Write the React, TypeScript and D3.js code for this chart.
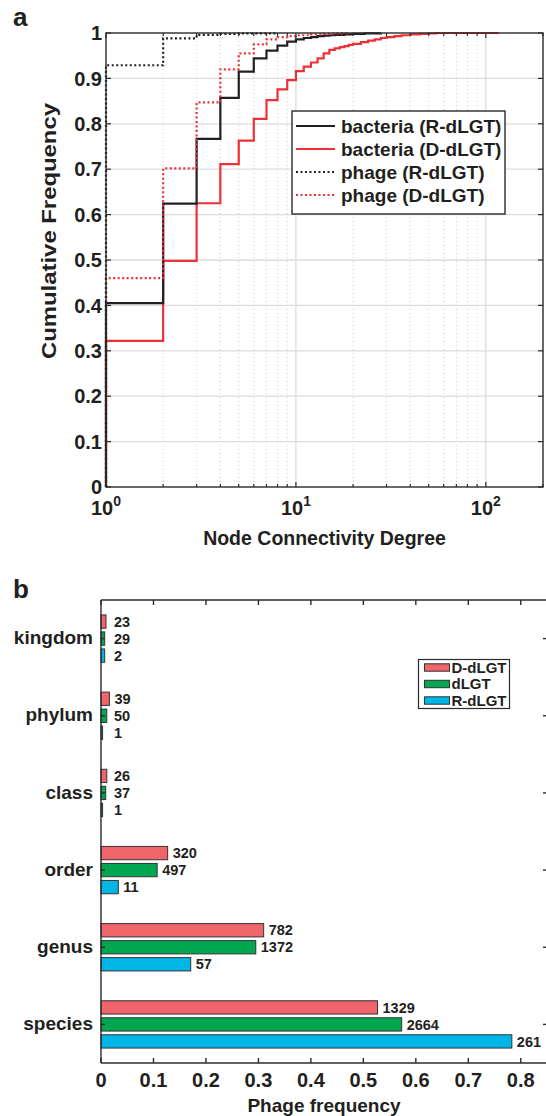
import React, { useEffect, useRef } from 'react';
import * as d3 from 'd3';

// panel a: cumulative frequency of node degree
const bacteriaRDeg = [1, 2, 3, 4, 5, 6, 7, 8, 9, 10, 11, 12, 13, 14, 15, 16, 18, 20, 23, 28];
const bacteriaRCdf = [0.405, 0.624, 0.767, 0.857, 0.915, 0.944, 0.961, 0.972, 0.981, 0.986, 0.989, 0.991, 0.993, 0.994, 0.995, 0.996, 0.997, 0.998, 0.999, 1.0];

const bacteriaDDeg = [1, 2, 3, 4, 5, 6, 7, 8, 9, 10, 11, 12, 13, 14, 15, 16, 17, 18, 19, 20, 22, 24, 26, 28, 30, 33, 36, 40, 45, 50, 55, 117];
const bacteriaDCdf = [0.322, 0.498, 0.625, 0.711, 0.763, 0.811, 0.852, 0.876, 0.896, 0.916, 0.926, 0.935, 0.944, 0.955, 0.963, 0.966, 0.969, 0.971, 0.974, 0.976, 0.98, 0.983, 0.986, 0.989, 0.991, 0.993, 0.995, 0.997, 0.998, 0.999, 1.0, 1.0];

const phageRDeg = [1, 2, 3, 4, 5, 8];
const phageRCdf = [0.929, 0.988, 0.996, 0.998, 0.999, 1.0];

const phageDDeg = [1, 2, 3, 4, 5, 6, 7, 8, 9, 10, 12, 14, 16, 19];
const phageDCdf = [0.46, 0.702, 0.847, 0.92, 0.955, 0.975, 0.986, 0.991, 0.993, 0.995, 0.997, 0.998, 0.999, 1.0];

const yTicksA = [0, 0.1, 0.2, 0.3, 0.4, 0.5, 0.6, 0.7, 0.8, 0.9, 1];
const xDecades = [1, 10, 100];

// panel b: phage frequency per taxonomic level
const levels = ['kingdom', 'phylum', 'class', 'order', 'genus', 'species'];
const freqD = [0.0095, 0.016, 0.011, 0.127, 0.31, 0.527];
const countD = [23, 39, 26, 320, 782, 1329];
const freqAll = [0.007, 0.011, 0.009, 0.107, 0.295, 0.573];
const countAll = [29, 50, 37, 497, 1372, 2664];
const freqR = [0.007, 0.003, 0.003, 0.033, 0.171, 0.783];
const countR = [2, 1, 1, 11, 57, 261];
const xTicksB = [0, 0.1, 0.2, 0.3, 0.4, 0.5, 0.6, 0.7, 0.8];

const FONT = "'Liberation Sans', Arial, Helvetica, sans-serif";
const INK = '#231f20';
const AXIS = '#2b2b2b';
const BLACK = '#231f20';
const RED = '#ee3036';

const App = () => {
    const svgRef = useRef(null);

    useEffect(() => {
        const width = 546;
        const height = 1116;
        const svg = d3.select(svgRef.current);
        svg.selectAll('*').remove();
        svg.attr('width', width).attr('height', height)
            .style('font-family', FONT).style('font-weight', 'bold');

        svg.append('rect').attr('width', width).attr('height', height).attr('fill', '#fff');

        // ---------------- panel a ----------------
        const a = { left: 106, right: 543, top: 33, bottom: 487 };
        const x = d3.scaleLog().domain([1, 200]).range([a.left, a.right]);
        const y = d3.scaleLinear().domain([0, 1]).range([a.bottom, a.top]);

        svg.append('text').attr('x', 13).attr('y', 26).attr('font-size', 26).attr('fill', INK).text('a');

        const minor = [];
        [1, 10, 100].forEach(dec => {
            for (let m = 2; m <= 9; m++) if (dec * m <= 200) minor.push(dec * m);
        });

        // minor grid (dotted)
        svg.append('g').selectAll('line').data(minor).enter().append('line')
            .attr('x1', d => x(d)).attr('x2', d => x(d))
            .attr('y1', a.top).attr('y2', a.bottom)
            .attr('stroke', '#bdbdbd').attr('stroke-width', 0.8).attr('stroke-dasharray', '1,3');
        // major grid
        svg.append('g').selectAll('line').data(yTicksA.slice(1, -1)).enter().append('line')
            .attr('x1', a.left).attr('x2', a.right)
            .attr('y1', d => y(d)).attr('y2', d => y(d))
            .attr('stroke', '#dcdcdc').attr('stroke-width', 1.3);
        svg.append('g').selectAll('line').data(xDecades.slice(1)).enter().append('line')
            .attr('x1', d => x(d)).attr('x2', d => x(d))
            .attr('y1', a.top).attr('y2', a.bottom)
            .attr('stroke', '#dcdcdc').attr('stroke-width', 1.3);

        const series = [
            { deg: bacteriaDDeg, cdf: bacteriaDCdf, color: RED, dash: null },
            { deg: bacteriaRDeg, cdf: bacteriaRCdf, color: BLACK, dash: null },
            { deg: phageDDeg, cdf: phageDCdf, color: RED, dash: '2,2.5' },
            { deg: phageRDeg, cdf: phageRCdf, color: BLACK, dash: '2,2.5' },
        ];
        const stair = d3.line().x(d => x(d[0])).y(d => y(d[1])).curve(d3.curveStepAfter);
        series.forEach(s => {
            const pts = [[1, 0]].concat(s.deg.map((d, i) => [d, s.cdf[i]]));
            svg.append('path').attr('d', stair(pts))
                .attr('fill', 'none').attr('stroke', s.color).attr('stroke-width', 2.2)
                .attr('stroke-dasharray', s.dash);
        });

        // frame + ticks
        svg.append('rect').attr('x', a.left).attr('y', a.top)
            .attr('width', a.right - a.left).attr('height', a.bottom - a.top)
            .attr('fill', 'none').attr('stroke', AXIS).attr('stroke-width', 1.4);
        const ticksA = svg.append('g').attr('stroke', AXIS).attr('stroke-width', 1.2);
        yTicksA.forEach(t => {
            ticksA.append('line').attr('x1', a.left).attr('x2', a.left + 5).attr('y1', y(t)).attr('y2', y(t));
            ticksA.append('line').attr('x1', a.right).attr('x2', a.right - 5).attr('y1', y(t)).attr('y2', y(t));
        });
        xDecades.forEach(t => {
            ticksA.append('line').attr('x1', x(t)).attr('x2', x(t)).attr('y1', a.bottom).attr('y2', a.bottom - 5);
            ticksA.append('line').attr('x1', x(t)).attr('x2', x(t)).attr('y1', a.top).attr('y2', a.top + 5);
        });
        minor.forEach(t => {
            ticksA.append('line').attr('x1', x(t)).attr('x2', x(t)).attr('y1', a.bottom).attr('y2', a.bottom - 3);
            ticksA.append('line').attr('x1', x(t)).attr('x2', x(t)).attr('y1', a.top).attr('y2', a.top + 3);
        });

        svg.append('g').selectAll('text').data(yTicksA).enter().append('text')
            .attr('x', a.left - 4).attr('y', d => y(d)).attr('dy', '0.36em')
            .attr('text-anchor', 'end').attr('font-size', 20).attr('fill', INK)
            .text(d => (d === 0 || d === 1 ? String(d) : d.toFixed(1)));

        xDecades.forEach((t, i) => {
            const tx = svg.append('text').attr('x', x(t)).attr('y', 515)
                .attr('text-anchor', 'middle').attr('font-size', 20).attr('fill', INK);
            tx.append('tspan').text('10');
            tx.append('tspan').attr('dy', -9).attr('font-size', 14).text(String(i));
        });

        svg.append('text').attr('x', (a.left + a.right) / 2).attr('y', 545)
            .attr('text-anchor', 'middle').attr('font-size', 19.5).attr('fill', INK)
            .text('Node Connectivity Degree');
        svg.append('text').attr('transform', 'translate(56,231) rotate(-90)')
            .attr('text-anchor', 'middle').attr('font-size', 20).attr('fill', INK)
            .attr('textLength', 256).attr('lengthAdjust', 'spacingAndGlyphs')
            .text('Cumulative Frequency');

        // legend a
        const legA = svg.append('g');
        legA.append('rect').attr('x', 292).attr('y', 111).attr('width', 213).attr('height', 103)
            .attr('fill', '#fff').attr('stroke', AXIS).attr('stroke-width', 1.4);
        const legItems = [
            { label: 'bacteria (R-dLGT)', color: BLACK, dash: null },
            { label: 'bacteria (D-dLGT)', color: RED, dash: null },
            { label: 'phage (R-dLGT)', color: BLACK, dash: '2,2.5' },
            { label: 'phage (D-dLGT)', color: RED, dash: '2,2.5' },
        ];
        legItems.forEach((it, i) => {
            const ly = 126 + i * 23;
            legA.append('line').attr('x1', 296).attr('x2', 335).attr('y1', ly).attr('y2', ly)
                .attr('stroke', it.color).attr('stroke-width', 2.2).attr('stroke-dasharray', it.dash);
            legA.append('text').attr('x', 341).attr('y', ly).attr('dy', '0.36em')
                .attr('font-size', 19).attr('fill', INK).text(it.label);
        });

        // ---------------- panel b ----------------
        const b = { left: 101, right: 547, top: 600, bottom: 1063 };
        const xb = d3.scaleLinear().domain([0, 0.85]).range([b.left, b.right]);
        const yb = d3.scaleBand().domain(levels).range([b.top, b.bottom]);

        svg.append('text').attr('x', 13).attr('y', 598).attr('font-size', 26).attr('fill', INK).text('b');

        const groups = [
            { freq: freqD, count: countD, color: '#f0646b', off: -17 },
            { freq: freqAll, count: countAll, color: '#00a650', off: 0 },
            { freq: freqR, count: countR, color: '#00b6e7', off: 17 },
        ];
        const barH = 13.3;
        groups.forEach(g => {
            const rows = levels.map((l, i) => ({ l, v: g.freq[i], c: g.count[i] }));
            const cy = d => yb(d.l) + yb.bandwidth() / 2 + g.off;
            svg.append('g').selectAll('rect').data(rows).enter().append('rect')
                .attr('x', xb(0)).attr('y', d => cy(d) - barH / 2)
                .attr('width', d => xb(d.v) - xb(0)).attr('height', barH)
                .attr('fill', g.color).attr('stroke', '#333').attr('stroke-width', 1);
            svg.append('g').selectAll('text').data(rows).enter().append('text')
                .attr('x', d => Math.max(xb(d.v) + 5, 114)).attr('y', d => cy(d)).attr('dy', '0.36em')
                .attr('font-size', 14.5).attr('fill', INK).text(d => d.c);
        });

        const axB = svg.append('g').attr('stroke', AXIS).attr('stroke-width', 1.4).attr('fill', 'none');
        axB.append('line').attr('x1', b.left).attr('x2', width).attr('y1', b.top).attr('y2', b.top);
        axB.append('line').attr('x1', b.left).attr('x2', width).attr('y1', b.bottom).attr('y2', b.bottom);
        axB.append('line').attr('x1', b.left).attr('x2', b.left).attr('y1', b.top).attr('y2', b.bottom);
        xTicksB.forEach(t => {
            axB.append('line').attr('x1', xb(t)).attr('x2', xb(t)).attr('y1', b.bottom).attr('y2', b.bottom - 5);
            axB.append('line').attr('x1', xb(t)).attr('x2', xb(t)).attr('y1', b.top).attr('y2', b.top + 5);
        });
        levels.forEach(l => {
            const cy = yb(l) + yb.bandwidth() / 2;
            axB.append('line').attr('x1', b.left).attr('x2', b.left + 4).attr('y1', cy).attr('y2', cy);
            axB.append('line').attr('x1', b.right - 4).attr('x2', b.right).attr('y1', cy).attr('y2', cy);
        });

        svg.append('g').selectAll('text').data(levels).enter().append('text')
            .attr('x', 93).attr('y', d => yb(d) + yb.bandwidth() / 2).attr('dy', '0.3em')
            .attr('text-anchor', 'end').attr('font-size', 19).attr('fill', INK).text(d => d);

        svg.append('g').selectAll('text').data(xTicksB).enter().append('text')
            .attr('x', d => xb(d)).attr('y', 1087)
            .attr('text-anchor', 'middle').attr('font-size', 20).attr('fill', INK)
            .text(d => (d === 0 ? '0' : d.toFixed(1)));

        svg.append('text').attr('x', (b.left + b.right) / 2).attr('y', 1112)
            .attr('text-anchor', 'middle').attr('font-size', 19).attr('fill', INK)
            .text('Phage frequency');

        // legend b
        const legB = svg.append('g');
        legB.append('rect').attr('x', 418.5).attr('y', 659.5).attr('width', 91).attr('height', 49)
            .attr('fill', '#fff').attr('stroke', AXIS).attr('stroke-width', 1.2);
        const legBItems = [
            { label: 'D-dLGT', color: '#f0646b' },
            { label: 'dLGT', color: '#00a650' },
            { label: 'R-dLGT', color: '#00b6e7' },
        ];
        legBItems.forEach((it, i) => {
            const ly = 667.5 + i * 16.5;
            legB.append('rect').attr('x', 424.5).attr('y', ly - 3.7).attr('width', 25).attr('height', 7.4)
                .attr('fill', it.color).attr('stroke', '#333').attr('stroke-width', 1);
            legB.append('text').attr('x', 451.5).attr('y', ly).attr('dy', '0.36em')
                .attr('font-size', 15).attr('fill', INK).text(it.label);
        });
    }, []);

    return (
        <svg ref={svgRef} style={{ position: 'absolute', left: 0, top: 0, display: 'block' }}></svg>
    );
};

export default App;
